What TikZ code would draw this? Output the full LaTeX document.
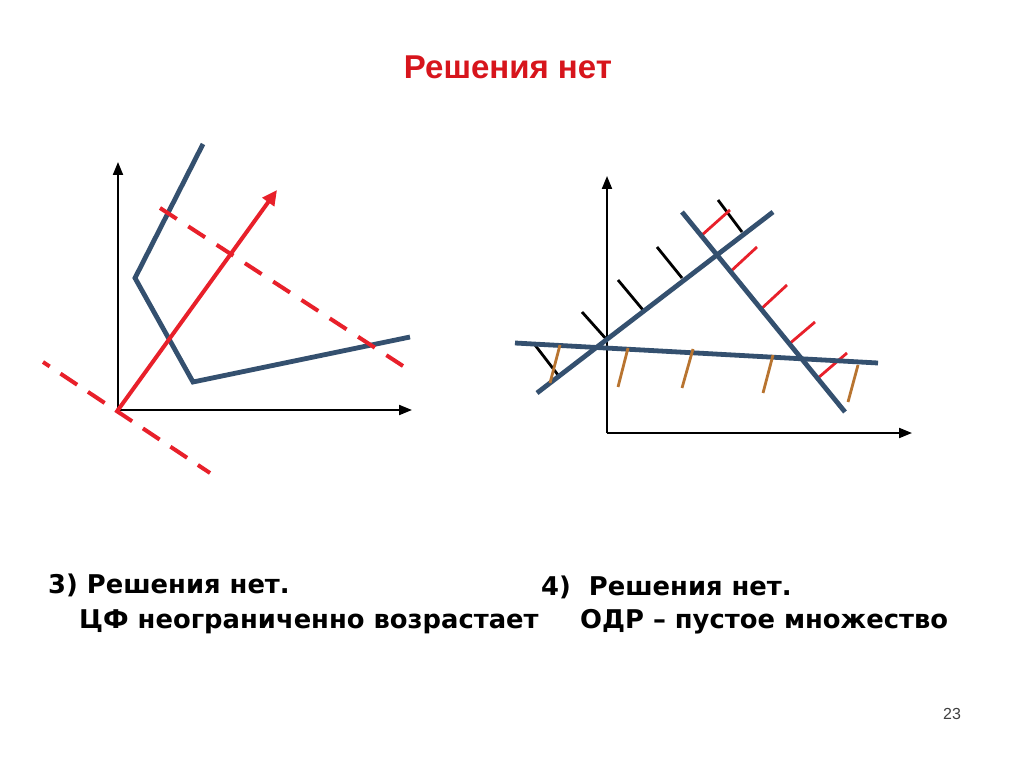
\documentclass[tikz,border=0pt]{standalone}
\usepackage{fontspec}
\setmainfont{DejaVu Sans}
\newfontfamily\arialfont{Liberation Sans}
\usetikzlibrary{arrows.meta}
\definecolor{slate}{HTML}{34506F}
\definecolor{redln}{HTML}{E8202A}
\definecolor{ochre}{HTML}{B87430}
\definecolor{titlered}{HTML}{D7151C}
\begin{document}
\begin{tikzpicture}[x=1pt,y=-1pt,
  axis/.style={black,line width=2pt,-{Triangle[length=13pt,width=10pt]}},
  bline/.style={slate,line width=4.8pt},
  redarrow/.style={redln,line width=4pt,-{Triangle[length=15pt,width=14pt]}},
  reddash/.style={redln,line width=4pt},
  hblack/.style={black,line width=2.8pt},
  hred/.style={redln,line width=2.8pt},
  hochre/.style={ochre,line width=2.8pt},
  body/.style={font=\fontsize{25.8}{30}\selectfont\bfseries,anchor=base west,inner sep=0pt}]
\useasboundingbox (0,0) rectangle (1024,767);
\fill[white] (0,0) rectangle (1024,767);

% title
\node[font=\arialfont\fontsize{33}{38}\selectfont\bfseries,text=titlered,anchor=base,inner sep=0pt] (title) at (508,79) {Решения нет};

% ---------- left diagram ----------
\coordinate (O1) at (118,410);
\coordinate (Y1) at (118,162);
\coordinate (X1) at (412,410);
\draw[axis] (O1) -- (Y1);
\draw[axis] (O1) -- (X1);
\coordinate (P1) at (203,144);
\coordinate (P2) at (135,278);
\coordinate (P3) at (193,382);
\coordinate (P4) at (410,337);
\draw[bline,line join=miter] (P1) -- (P2) -- (P3) -- (P4);
\coordinate (D1a) at (43,362);
\coordinate (D1b) at (210,473);
\draw[reddash,dash pattern=on 20pt off 13pt,dash phase=12pt] (D1a) -- (D1b);
\coordinate (D2a) at (160,208);
\coordinate (D2b) at (403,366);
\draw[reddash,dash pattern=on 20pt off 13.75pt] (D2a) -- (D2b);
\coordinate (R1) at (277,190);
\draw[redarrow] (O1) -- (R1);

% ---------- right diagram ----------
\coordinate (O2) at (607,433);
\coordinate (Y2) at (607,176);
\coordinate (X2) at (912,433);
\draw[axis] (O2) -- (Y2);
\draw[axis] (O2) -- (X2);

% hatches black on line A
\draw[hblack] (558,375) -- (535,345);
\draw[hblack] (607,340) -- (582,312);
\draw[hblack] (643,310) -- (618,280);
\draw[hblack] (682,278) -- (657,247);
\draw[hblack] (742,232) -- (718,200);
% hatches red on line B
\draw[hred] (702,235) -- (730,210);
\draw[hred] (730,272) -- (757,247);
\draw[hred] (760,310) -- (787,285);
\draw[hred] (788,345) -- (815,322);
\draw[hred] (818,378) -- (847,353);

\coordinate (A1) at (537,393);
\coordinate (A2) at (773,212);
\coordinate (B1) at (682,212);
\coordinate (B2) at (845,412);
\coordinate (C1) at (515,343);
\coordinate (C2) at (878,363);
\draw[bline] (A1) -- (A2);
\draw[bline] (B1) -- (B2);
\draw[bline] (C1) -- (C2);

% hatches ochre on line C
\draw[hochre] (560,345) -- (550,383);
\draw[hochre] (628,348) -- (618,387);
\draw[hochre] (693,349) -- (682,388);
\draw[hochre] (773,355) -- (763,393);
\draw[hochre] (858,365) -- (848,402);

% ---------- texts ----------
\node[body] (t3a) at (48,593) {3) Решения нет.};
\node[body] (t3b) at (79,628) {ЦФ неограниченно возрастает};
\node[body] (t4a) at (541,595) {4)\ \ Решения нет.};
\node[body] (t4b) at (580,628) {ОДР – пустое множество};
\node[font=\arialfont\fontsize{16}{19}\selectfont,text=black!75,anchor=base west,inner sep=0pt] (pg) at (943,719) {23};
\end{tikzpicture}
\end{document}
